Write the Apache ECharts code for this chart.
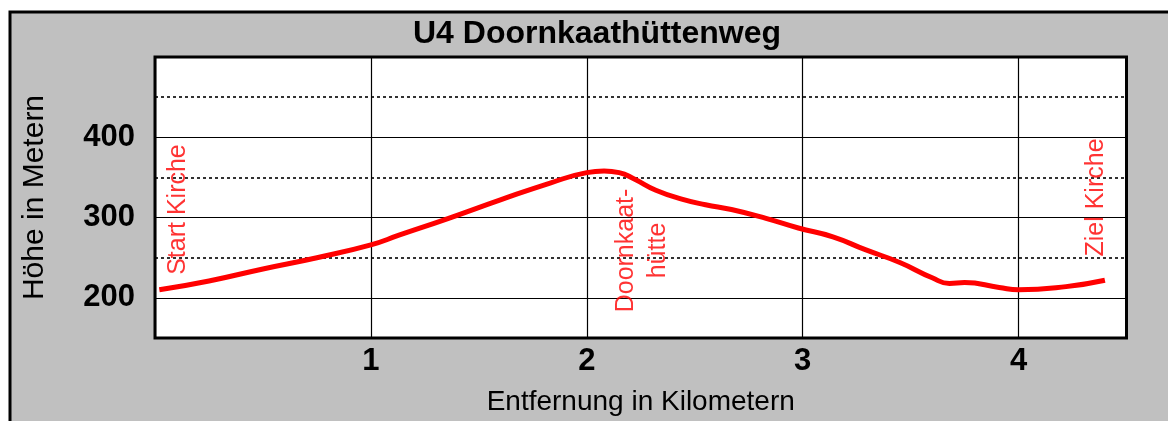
<!DOCTYPE html>
<html>
<head>
<meta charset="utf-8">
<script src="https://cdn.jsdelivr.net/npm/echarts@6/dist/echarts.min.js"></script>
<style>
  html, body { margin: 0; padding: 0; background: #fff; }
  #main { width: 1168px; height: 421px; }
</style>
</head>
<body>
<div id="main"></div>
<script>
// Höhenprofil U4
const distKm = [0.02, 0.25, 0.5, 0.75, 1.0, 1.13, 1.36, 1.6, 1.83, 2.0, 2.08, 2.15, 2.22, 2.32, 2.44, 2.55, 2.67, 2.83, 2.98, 3.14, 3.29, 3.45, 3.6, 3.68, 3.75, 3.91, 4.0, 4.22, 4.4];
const elevM = [210, 221, 236, 250, 266, 278, 299, 322, 343, 356, 358, 356, 348, 334, 323, 316, 310, 299, 287, 276, 260, 244, 225, 218, 219, 213, 210, 214, 222];

// Beschriftungen (Orte)
const placeNames = ['Start Kirche', 'Doornkaat-\nhütte', 'Ziel Kirche'];
const placeKm = [0.106, 2.257, 4.357];
const placeY = [310, 259, 325];

const xTicks = [1, 2, 3, 4];
const yTicks = [200, 300, 400];

const font = 'Liberation Sans, Arial, sans-serif';

const chart = echarts.init(document.getElementById('main'));

const option = {
  backgroundColor: '#fff',
  animation: false,
  graphic: [
    {
      type: 'rect',
      z: -10,
      silent: true,
      shape: { x: 10, y: 12, width: 1300, height: 600 },
      style: { fill: '#c0c0c0', stroke: '#000', lineWidth: 3 }
    }
  ],
  title: {
    text: 'U4 Doornkaathüttenweg',
    left: 592,
    top: 13,
    textAlign: 'center',
    textStyle: { fontFamily: font, fontSize: 32, fontWeight: 'bold', color: '#000' }
  },
  grid: {
    left: 155,
    right: 41.5,
    top: 57,
    bottom: 80,
    show: true,
    backgroundColor: '#fff',
    borderColor: '#000',
    borderWidth: 3
  },
  xAxis: {
    type: 'value',
    min: 0,
    max: 4.5,
    interval: 1,
    name: 'Entfernung in Kilometern',
    nameLocation: 'middle',
    nameGap: 50,
    nameTextStyle: { fontFamily: font, fontSize: 28, color: '#000' },
    axisLine: { show: false },
    axisTick: { show: false },
    axisLabel: {
      fontFamily: font, fontSize: 31, fontWeight: 'bold', color: '#000', margin: 8,
      showMinLabel: false, showMaxLabel: false,
      formatter: v => (xTicks.indexOf(v) >= 0 ? String(v) : '')
    },
    splitLine: { show: true, lineStyle: { color: '#000', width: 1.2 } }
  },
  yAxis: [
    {
      type: 'value',
      min: 150,
      max: 500,
      interval: 50,
      name: 'Höhe in Metern',
      nameLocation: 'middle',
      nameGap: 105,
      nameTextStyle: { fontFamily: font, fontSize: 30, color: '#000' },
      axisLine: { show: false },
      axisTick: { show: false },
      axisLabel: {
        fontFamily: font, fontSize: 31, fontWeight: 'bold', color: '#000', margin: 20,
        formatter: v => (yTicks.indexOf(v) >= 0 ? String(v) : '')
      },
      splitLine: {
        show: true,
        showMinLine: true,
        lineStyle: { color: ['rgba(0,0,0,0)', '#000'], width: 1.2 }
      }
    },
    {
      type: 'value',
      min: 150,
      max: 500,
      interval: 50,
      position: 'left',
      axisLine: { show: false },
      axisTick: { show: false },
      axisLabel: { show: false },
      splitLine: {
        show: true,
        showMinLine: true,
        lineStyle: { color: ['#000', 'rgba(0,0,0,0)'], width: 1.6, type: [3, 3] }
      }
    }
  ],
  series: [
    {
      type: 'line',
      data: distKm.map((d, i) => [d, elevM[i]]),
      smooth: 0.5,
      showSymbol: false,
      lineStyle: { color: '#ff0000', width: 5 },
      z: 5
    },
    {
      type: 'scatter',
      data: placeKm.map((d, i) => ({ value: [d, placeY[i]], name: placeNames[i] })),
      symbolSize: 0,
      silent: true,
      label: {
        show: true,
        position: 'inside',
        rotate: 90,
        formatter: p => p.name,
        fontFamily: font,
        fontSize: 25,
        lineHeight: 32,
        color: '#ff0000',
        align: 'center',
        verticalAlign: 'middle'
      },
      z: 6
    }
  ]
};

chart.setOption(option);
</script>
</body>
</html>
